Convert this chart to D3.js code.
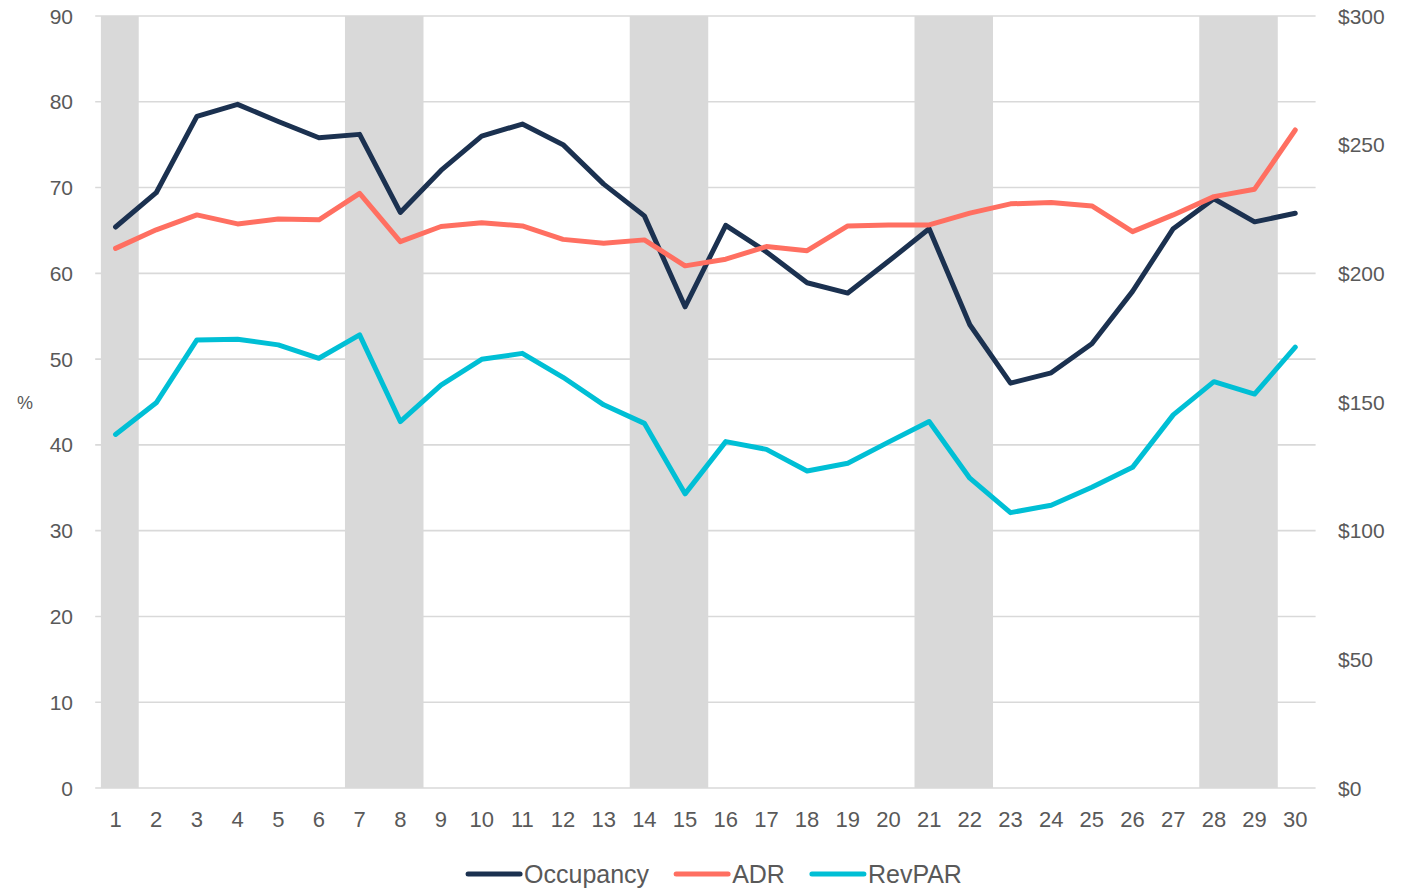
<!DOCTYPE html>
<html>
<head>
<meta charset="utf-8">
<script src="https://cdn.jsdelivr.net/npm/d3@7/dist/d3.min.js"></script>
<style>
  body { margin: 0; background: #fff; }
  text { font-family: "Liberation Sans", Arial, sans-serif; fill: #595959; }
</style>
</head>
<body>
<script>
var W = 1422, H = 892;

// days of the month
var days = d3.range(1, 31);

// Occupancy (%), left axis
var occupancy = [65.4, 69.4, 78.3, 79.7, 77.7, 75.8, 76.2, 67.1, 72.0, 76.0,
                 77.4, 75.0, 70.4, 66.7, 56.1, 65.6, 62.5, 58.9, 57.7, 61.4,
                 65.2, 54.0, 47.2, 48.4, 51.8, 57.9, 65.2, 68.7, 66.0, 67.0];

// ADR ($), right axis
var adr = [209.7, 216.9, 222.7, 219.2, 221.1, 220.8, 231.1, 212.3, 218.2, 219.7,
           218.4, 213.2, 211.7, 213.0, 202.9, 205.5, 210.4, 208.8, 218.4, 218.8,
           218.8, 223.4, 227.0, 227.5, 226.2, 216.2, 222.7, 229.8, 232.7, 255.7];

// RevPAR ($), right axis
var revpar = [137.4, 149.7, 174.1, 174.4, 172.2, 167.0, 176.1, 142.4, 156.6, 166.6,
              168.9, 159.6, 148.9, 141.7, 114.3, 134.6, 131.6, 123.2, 126.2, 134.4,
              142.4, 120.4, 107.0, 109.9, 116.9, 124.6, 145.0, 157.9, 153.1, 171.3];

// weekend shading (first day, last day)
var weekends = [[1, 1], [7, 8], [14, 15], [21, 22], [28, 29]];

var leftTicks = d3.range(0, 91, 10);
var rightTicks = d3.range(0, 301, 50);

var series = [
  { name: "Occupancy", values: occupancy, axis: "left", color: "#1b3150" },
  { name: "ADR", values: adr, axis: "right", color: "#ff6f61" },
  { name: "RevPAR", values: revpar, axis: "right", color: "#00bfd5" }
];

var plot = { left: 95.2, right: 1315.6, top: 16, bottom: 788 };

var svg = d3.select("body").append("svg")
  .attr("width", W)
  .attr("height", H);

var x = d3.scaleBand()
  .domain(days)
  .range([plot.left, plot.right]);

var yL = d3.scaleLinear().domain([0, 90]).range([plot.bottom, plot.top]);
var yR = d3.scaleLinear().domain([0, 300]).range([plot.bottom, plot.top]);

// gridlines
svg.append("g").selectAll("line")
  .data(leftTicks)
  .enter().append("line")
  .attr("x1", plot.left)
  .attr("x2", plot.right)
  .attr("y1", function(d) { return yL(d); })
  .attr("y2", function(d) { return yL(d); })
  .attr("stroke", "#d9d9d9")
  .attr("stroke-width", 1.6);

// weekend bands
var bw = x.bandwidth();
svg.append("g").selectAll("rect")
  .data(weekends)
  .enter().append("rect")
  .attr("x", function(d) { return x(d[0]) + 0.14 * bw; })
  .attr("width", function(d) { return x(d[1]) + 1.07 * bw - (x(d[0]) + 0.14 * bw); })
  .attr("y", plot.top)
  .attr("height", plot.bottom - plot.top)
  .attr("fill", "#d9d9d9");

// left axis labels
svg.append("g").selectAll("text")
  .data(leftTicks)
  .enter().append("text")
  .attr("x", 73)
  .attr("y", function(d) { return yL(d); })
  .attr("dy", "0.36em")
  .attr("text-anchor", "end")
  .style("font-size", "21px")
  .text(function(d) { return d; });

// right axis labels
svg.append("g").selectAll("text")
  .data(rightTicks)
  .enter().append("text")
  .attr("x", 1338)
  .attr("y", function(d) { return yR(d); })
  .attr("dy", "0.36em")
  .attr("text-anchor", "start")
  .style("font-size", "21px")
  .text(function(d) { return "$" + d; });

// x labels
svg.append("g").selectAll("text")
  .data(days)
  .enter().append("text")
  .attr("x", function(d) { return x(d) + bw / 2; })
  .attr("y", 827)
  .attr("text-anchor", "middle")
  .style("font-size", "22px")
  .text(function(d) { return d; });

// axis title
svg.append("text")
  .attr("x", 25)
  .attr("y", 403)
  .attr("dy", "0.36em")
  .attr("text-anchor", "middle")
  .style("font-size", "18px")
  .text("%");

// lines
series.forEach(function(s) {
  var y = s.axis === "left" ? yL : yR;
  var line = d3.line()
    .x(function(d, i) { return x(days[i]) + bw / 2; })
    .y(function(d) { return y(d); });
  svg.append("path")
    .datum(s.values)
    .attr("d", line)
    .attr("fill", "none")
    .attr("stroke", s.color)
    .attr("stroke-width", 5)
    .attr("stroke-linejoin", "round")
    .attr("stroke-linecap", "round");
});

// legend (kept just inside the bottom edge)
var legend = svg.append("g");
var lx = 0;
series.forEach(function(s, i) {
  var g = legend.append("g").attr("transform", "translate(" + lx + ",0)");
  g.append("line")
    .attr("x1", 2).attr("x2", 54)
    .attr("y1", 0).attr("y2", 0)
    .attr("stroke", s.color)
    .attr("stroke-width", 5)
    .attr("stroke-linecap", "round");
  var t = g.append("text")
    .attr("x", 58)
    .attr("y", 0)
    .attr("dy", "0.36em")
    .style("font-size", "25px")
    .text(s.name);
  lx += 58 + t.node().getComputedTextLength() + 25;
});
lx -= 25;
legend.attr("transform", "translate(" + (714 - lx / 2) + ",874)");
</script>
</body>
</html>
